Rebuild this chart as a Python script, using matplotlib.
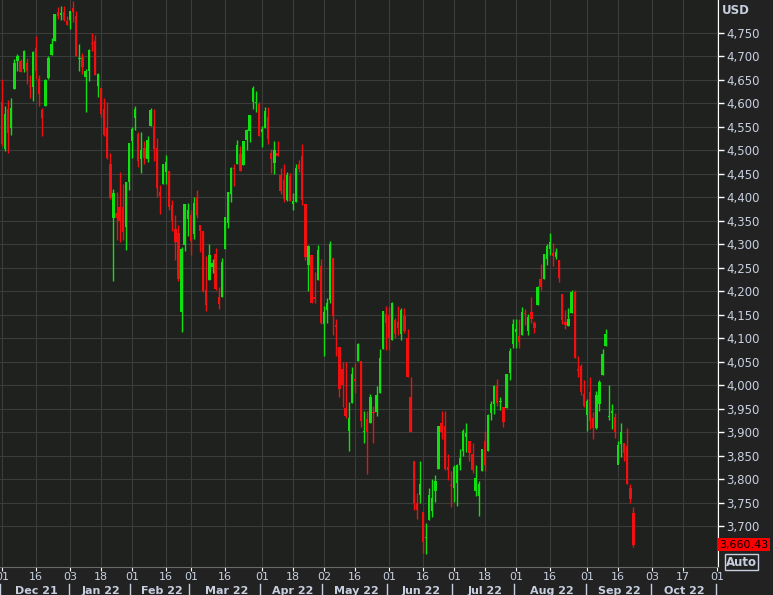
import matplotlib
matplotlib.use("Agg")
import matplotlib.pyplot as plt
import pandas as pd
import numpy as np

opens = [4602,4504,4589,4548,4631,4690,4690,4673,4687,4637,4636,4719,4653,4587,4594,4655,4703,4733,4795,4788,4794,4776,
 4778,4804,4787,4694,4698,4656,4670,4728,4733,4637,4632,4588,4547,4471,4356,4367,4380,4380,4337,4432,
 4519,4568,4535,4482,4505,4481,4553,4553,4506,4412,4429,4455,4456,4384,4332,4324,4155,4298,4354,
 4363,4322,4401,4342,4328,4202,4224,4252,4279,4188,4188,4289,4345,4407,4463,4470,4493,4469,4523,4541,4602,4600,4599,
 4540,4547,4572,4494,4474,4494,4447,4437,4394,4446,4385,4390,4472,4489,4385,4255,4278,4187,4223,4253,
 4130,4159,4181,4271,4128,4081,4034,3951,3903,3963,4013,4052,4052,3900,3927,3919,3942,3942,3984,4077,4151,
 4149,4096,4138,4135,4110,4148,4101,3975,3838,3750,3765,3729,3675,3713,3733,3775,3821,3920,3913,3826,3786,
 3782,3792,3831,3859,3889,3880,3853,3774,3764,3818,3880,3860,3940,3960,3999,3965,3953,3951,4026,4088,
 4113,4105,4107,4154,4115,4155,4133,4170,4227,4226,4269,4290,4281,4273,4266,4195,4134,4127,4154,4199,4035,4041,3982,
 3936,3986,3930,3909,3959,4022,4084,3932,3940,3932,3830,3875,3876,3871,3782,3727]
highs = [4652,4595,4608,4612,4694,4705,4695,4713,4697,4660,4712,4743,4661,4591,4651,4702,4740,4791,4805,4808,4808,4787,
 4797,4819,4797,4726,4707,4673,4716,4749,4745,4665,4633,4611,4602,4495,4417,4411,4453,4428,4433,4516,
 4550,4595,4540,4540,4521,4531,4590,4589,4527,4427,4472,4490,4456,4394,4362,4341,4294,4385,4389,
 4374,4401,4416,4342,4328,4276,4300,4268,4292,4209,4271,4358,4412,4465,4471,4522,4509,4520,4546,4575,4637,4627,4603,
 4551,4593,4593,4503,4521,4520,4462,4471,4453,4452,4410,4471,4479,4513,4385,4299,4278,4240,4299,4269,
 4169,4185,4308,4271,4141,4082,4049,4050,3965,4039,4047,4090,4050,3946,3944,3982,3956,3999,4076,4158,4168,
 4167,4178,4143,4169,4165,4164,4119,4018,3838,3770,3838,3729,3707,3781,3801,3808,3914,3946,3945,3854,3818,
 3829,3833,3865,3906,3920,3880,3877,3829,3796,3864,3902,3938,3966,4000,4013,3975,3953,4024,4079,4141,
 4140,4140,4167,4162,4151,4187,4137,4211,4257,4280,4301,4325,4302,4292,4266,4195,4159,4165,4203,4203,4062,4044,4010,
 3970,4018,3942,3987,4010,4077,4119,4000,3959,3940,3880,3919,3877,3908,3789,3740]
lows = [4510,4498,4495,4532,4631,4670,4666,4667,4641,4612,4606,4651,4594,4531,4594,4651,4703,4733,4780,4778,4775,4766,
 4758,4774,4700,4670,4662,4582,4648,4712,4660,4614,4572,4530,4482,4396,4222,4309,4304,4309,4288,4415,
 4483,4544,4465,4451,4471,4475,4553,4477,4401,4365,4429,4429,4373,4328,4267,4222,4114,4286,4318,
 4278,4312,4357,4284,4199,4157,4224,4239,4202,4162,4187,4289,4335,4390,4425,4470,4456,4469,4501,4517,4589,4581,4530,
 4507,4547,4514,4451,4450,4488,4408,4390,4393,4392,4372,4390,4455,4384,4267,4201,4175,4175,4223,4131,
 4062,4133,4175,4107,4063,3975,3953,3929,3859,3963,3984,4052,3911,3877,3810,3919,3876,3935,3984,4077,4074,
 4074,4097,4100,4107,4096,4111,4018,3900,3735,3715,3750,3642,3640,3713,3720,3752,3821,3885,3819,3799,3740,
 3752,3742,3820,3850,3858,3838,3813,3763,3722,3818,3818,3860,3925,3939,3955,3948,3911,3951,4011,4079,
 4079,4080,4107,4128,4107,4132,4112,4170,4202,4226,4256,4277,4253,4268,4219,4131,4120,4127,4154,4057,4017,3979,3954,
 3903,3907,3886,3906,3944,4022,4083,3926,3907,3887,3837,3847,3839,3789,3749,3655]
closes = [4513,4577,4538,4591,4686,4701,4667,4712,4669,4635,4709,4669,4621,4568,4649,4697,4726,4791,4786,4793,4778,4766,
 4797,4794,4701,4696,4677,4670,4713,4726,4660,4663,4577,4533,4483,4398,4410,4357,4350,4327,4432,4516,
 4546,4589,4477,4501,4484,4522,4587,4504,4419,4402,4472,4475,4380,4349,4305,4226,4289,4385,4374,
 4306,4387,4363,4329,4201,4171,4278,4260,4204,4173,4262,4358,4412,4463,4461,4511,4456,4520,4543,4575,4632,4602,4530,
 4546,4583,4525,4481,4500,4488,4413,4397,4447,4393,4392,4463,4460,4394,4272,4297,4175,4183,4288,4132,
 4155,4175,4300,4147,4123,3991,4001,3935,3930,4024,4008,4088,3923,3901,3901,3974,3941,3979,4058,4158,4132,
 4101,4176,4109,4121,4161,4116,4018,3901,3750,3735,3790,3667,3675,3765,3760,3796,3912,3900,3821,3819,3785,
 3825,3831,3845,3903,3899,3855,3819,3802,3790,3863,3831,3937,3960,3999,3962,3967,3921,4024,4073,4130,
 4119,4091,4155,4152,4145,4140,4122,4210,4208,4280,4297,4305,4275,4284,4228,4138,4128,4141,4199,4058,4031,3986,3955,
 3967,3924,3909,3980,4006,4067,4110,3932,3946,3901,3873,3900,3856,3790,3758,3660.43]
holidays = ["2021-12-24","2022-01-17","2022-02-21","2022-04-15","2022-05-30","2022-06-20","2022-07-04","2022-09-05","2022-11-24"]
tick_dates = ["2021-12-01","2021-12-16","2022-01-03","2022-01-18","2022-02-01","2022-02-16","2022-03-01","2022-03-16",
 "2022-04-01","2022-04-18","2022-05-02","2022-05-16","2022-06-01","2022-06-16","2022-07-01","2022-07-18",
 "2022-08-01","2022-08-16","2022-09-01","2022-09-16","2022-10-03","2022-10-17","2022-11-01"]
month_labels = ["Dec 21","Jan 22","Feb 22","Mar 22","Apr 22","May 22","Jun 22","Jul 22","Aug 22","Sep 22","Oct 22"]
yticks = list(range(3700, 4751, 50))

cbd = pd.offsets.CustomBusinessDay(holidays=holidays)
days = pd.date_range("2021-12-01", "2022-11-30", freq=cbd)
pos = {d: i for i, d in enumerate(days)}
tick_pos = [pos[pd.Timestamp(d)] for d in tick_dates]

BG = "#222222"
fig = plt.figure(figsize=(7.73, 5.95), dpi=100, facecolor=BG)
ax = fig.add_axes([0, 1 - 567/595, 718/773, 567/595])
ax.set_facecolor("#1e211e")
n = len(closes)
x = np.arange(n)
for i in range(n):
    c = "#10e010" if closes[i] >= opens[i] else "#f01010"
    ax.vlines(x[i], lows[i], highs[i], color=c, lw=1)
    lo, hi = min(opens[i], closes[i]), max(opens[i], closes[i])
    ax.bar(x[i], max(hi - lo, 1.5), bottom=lo, width=0.75, color=c, edgecolor=c, lw=0)

ax.set_xlim(-0.65, 231.3)
ax.set_ylim(3612.7, 4820.3)
ax.set_yticks(yticks)
ax.set_yticklabels([f"{v:,}" for v in yticks])
for lab, v in zip(ax.get_yticklabels(), yticks):
    if v in (4500, 4000):
        lab.set_fontweight("bold")
ax.yaxis.tick_right()
ax.tick_params(axis="y", colors="white", labelcolor="#c8d0e0", labelsize=8.5, length=4, width=1, direction="out", pad=2)
ax.set_xticks(tick_pos)
ax.set_xticklabels([d[-2:] for d in tick_dates])
ax.tick_params(axis="x", colors="white", labelcolor="#c8d0e0", labelsize=8, length=3, pad=0.5)
ax.grid(True, color="#3a3d3a", lw=0.8)
ax.set_axisbelow(True)
for s in ["top", "left"]:
    ax.spines[s].set_visible(False)
ax.spines["right"].set_color("white")
ax.spines["bottom"].set_color("#6a6a6a")

trans = ax.get_xaxis_transform()
month_starts = [i for i in range(1, len(days)) if days[i].month != days[i-1].month]
bounds = [0] + month_starts
for j, lab in enumerate(month_labels):
    a = bounds[j]; b = bounds[j+1]
    ax.text((a + b) / 2, -0.0425, lab, transform=trans, ha="center", va="center",
            color="#c8d0e0", fontsize=8, fontweight="bold", clip_on=False)
for b in bounds[:12]:
    ax.plot([b - 0.5, b - 0.5], [-0.03, -0.06], transform=trans, color="#c8d0e0", lw=1, clip_on=False)

fig.text(722/773, 1 - 11/595, "USD", color="#c8d0e0", fontsize=8.5, fontweight="bold", va="center")
last = closes[-1]
ax.annotate(f"{last:,.2f}", xy=(1.0, last), xycoords=("axes fraction", "data"),
            xytext=(1, 0), textcoords="offset points", va="center", ha="left",
            fontsize=8, color="black", annotation_clip=False,
            bbox=dict(boxstyle="square,pad=0.12", fc="#ff0000", ec="none"))
fig.text(726/773, 1 - 562/595, "Auto", color="#c8d0e0", fontsize=8.5, fontweight="bold", va="center",
         bbox=dict(boxstyle="square,pad=0.1", fc=BG, ec="#c8d0e0", lw=1))
fig.savefig("out.png", dpi=100, facecolor=BG)
